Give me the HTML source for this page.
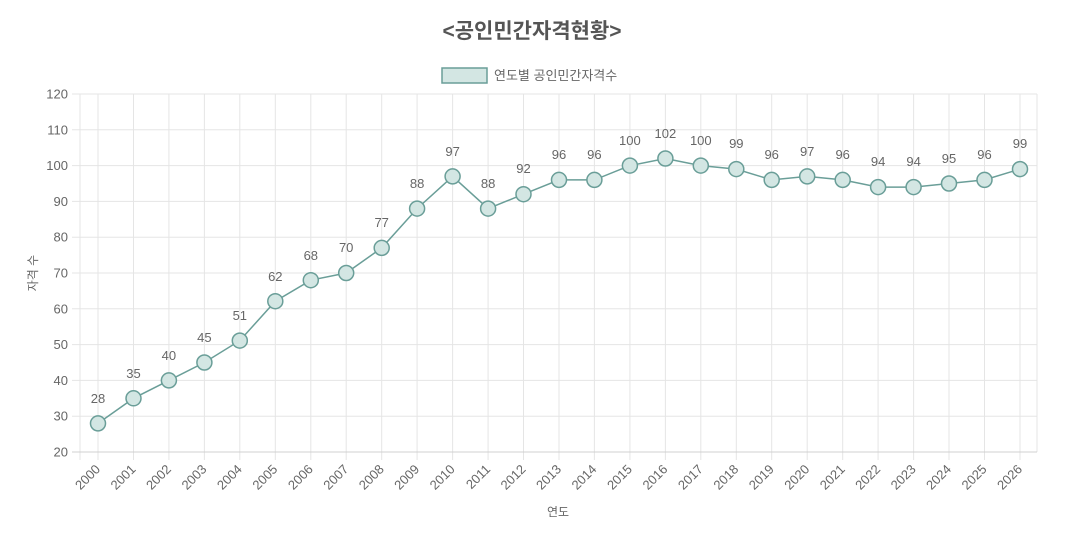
<!DOCTYPE html>
<html><head><meta charset="utf-8"><style>
body{margin:0;background:#fff}
text{font-family:"Liberation Sans","Noto Sans CJK KR",sans-serif;fill:#666}
</style></head><body>
<svg width="1070" height="540" xmlns="http://www.w3.org/2000/svg">
<text x="532" y="38" text-anchor="middle" font-size="21" font-weight="bold" style="fill:#555">&lt;공인민간자격현황&gt;</text>
<rect x="442" y="68" width="45" height="15" fill="#d3e6e3" stroke="#6a9e98" stroke-width="1.5"/>
<text x="494" y="80" font-size="13">연도별 공인민간자격수</text>
<g stroke="#e5e5e5" stroke-width="1">
<line x1="72" y1="94" x2="1037" y2="94"/><line x1="72" y1="129.8" x2="1037" y2="129.8"/><line x1="72" y1="165.6" x2="1037" y2="165.6"/><line x1="72" y1="201.4" x2="1037" y2="201.4"/><line x1="72" y1="237.2" x2="1037" y2="237.2"/><line x1="72" y1="273" x2="1037" y2="273"/><line x1="72" y1="308.8" x2="1037" y2="308.8"/><line x1="72" y1="344.6" x2="1037" y2="344.6"/><line x1="72" y1="380.4" x2="1037" y2="380.4"/><line x1="72" y1="416.2" x2="1037" y2="416.2"/>
<line x1="80" y1="94" x2="80" y2="460"/><line x1="98" y1="94" x2="98" y2="460"/><line x1="133.5" y1="94" x2="133.5" y2="460"/><line x1="168.9" y1="94" x2="168.9" y2="460"/><line x1="204.4" y1="94" x2="204.4" y2="460"/><line x1="239.8" y1="94" x2="239.8" y2="460"/><line x1="275.3" y1="94" x2="275.3" y2="460"/><line x1="310.8" y1="94" x2="310.8" y2="460"/><line x1="346.2" y1="94" x2="346.2" y2="460"/><line x1="381.7" y1="94" x2="381.7" y2="460"/><line x1="417.1" y1="94" x2="417.1" y2="460"/><line x1="452.6" y1="94" x2="452.6" y2="460"/><line x1="488.1" y1="94" x2="488.1" y2="460"/><line x1="523.5" y1="94" x2="523.5" y2="460"/><line x1="559" y1="94" x2="559" y2="460"/><line x1="594.4" y1="94" x2="594.4" y2="460"/><line x1="629.9" y1="94" x2="629.9" y2="460"/><line x1="665.4" y1="94" x2="665.4" y2="460"/><line x1="700.8" y1="94" x2="700.8" y2="460"/><line x1="736.3" y1="94" x2="736.3" y2="460"/><line x1="771.7" y1="94" x2="771.7" y2="460"/><line x1="807.2" y1="94" x2="807.2" y2="460"/><line x1="842.7" y1="94" x2="842.7" y2="460"/><line x1="878.1" y1="94" x2="878.1" y2="460"/><line x1="913.6" y1="94" x2="913.6" y2="460"/><line x1="949" y1="94" x2="949" y2="460"/><line x1="984.5" y1="94" x2="984.5" y2="460"/><line x1="1020" y1="94" x2="1020" y2="460"/><line x1="1037" y1="94" x2="1037" y2="452"/>
</g>
<line x1="72" y1="452" x2="1037" y2="452" stroke="#d0d0d0"/>
<g font-size="13" text-anchor="end">
<text x="68" y="98.5">120</text><text x="68" y="134.3">110</text><text x="68" y="170.1">100</text><text x="68" y="205.9">90</text><text x="68" y="241.7">80</text><text x="68" y="277.5">70</text><text x="68" y="313.3">60</text><text x="68" y="349.1">50</text><text x="68" y="384.9">40</text><text x="68" y="420.7">30</text><text x="68" y="456.5">20</text>
</g>
<text transform="translate(37,273) rotate(-90)" text-anchor="middle" font-size="12">자격 수</text>
<text x="558" y="516" text-anchor="middle" font-size="12">연도</text>
<g font-size="13" text-anchor="end">
<text transform="translate(101,470) rotate(-45)">2000</text><text transform="translate(136.5,470) rotate(-45)">2001</text><text transform="translate(171.9,470) rotate(-45)">2002</text><text transform="translate(207.4,470) rotate(-45)">2003</text><text transform="translate(242.8,470) rotate(-45)">2004</text><text transform="translate(278.3,470) rotate(-45)">2005</text><text transform="translate(313.8,470) rotate(-45)">2006</text><text transform="translate(349.2,470) rotate(-45)">2007</text><text transform="translate(384.7,470) rotate(-45)">2008</text><text transform="translate(420.1,470) rotate(-45)">2009</text><text transform="translate(455.6,470) rotate(-45)">2010</text><text transform="translate(491.1,470) rotate(-45)">2011</text><text transform="translate(526.5,470) rotate(-45)">2012</text><text transform="translate(562,470) rotate(-45)">2013</text><text transform="translate(597.4,470) rotate(-45)">2014</text><text transform="translate(632.9,470) rotate(-45)">2015</text><text transform="translate(668.4,470) rotate(-45)">2016</text><text transform="translate(703.8,470) rotate(-45)">2017</text><text transform="translate(739.3,470) rotate(-45)">2018</text><text transform="translate(774.7,470) rotate(-45)">2019</text><text transform="translate(810.2,470) rotate(-45)">2020</text><text transform="translate(845.7,470) rotate(-45)">2021</text><text transform="translate(881.1,470) rotate(-45)">2022</text><text transform="translate(916.6,470) rotate(-45)">2023</text><text transform="translate(952,470) rotate(-45)">2024</text><text transform="translate(987.5,470) rotate(-45)">2025</text><text transform="translate(1023,470) rotate(-45)">2026</text>
</g>
<polyline fill="none" stroke="#6a9e98" stroke-width="1.5" points="98,423.4 133.5,398.3 168.9,380.4 204.4,362.5 239.8,340.6 275.3,301.2 310.8,280.2 346.2,273 381.7,247.9 417.1,208.6 452.6,176.4 488.1,208.6 523.5,194.2 559,179.9 594.4,179.9 629.9,165.6 665.4,158.5 700.8,165.6 736.3,169.1 771.7,179.9 807.2,176.4 842.7,179.9 878.1,187.1 913.6,187.1 949,183.5 984.5,179.9 1020,169.1"/>
<g fill="#d3e6e3" stroke="#6a9e98" stroke-width="1.5">
<circle cx="98" cy="423.4" r="7.5"/><circle cx="133.5" cy="398.3" r="7.5"/><circle cx="168.9" cy="380.4" r="7.5"/><circle cx="204.4" cy="362.5" r="7.5"/><circle cx="239.8" cy="340.6" r="7.5"/><circle cx="275.3" cy="301.2" r="7.5"/><circle cx="310.8" cy="280.2" r="7.5"/><circle cx="346.2" cy="273" r="7.5"/><circle cx="381.7" cy="247.9" r="7.5"/><circle cx="417.1" cy="208.6" r="7.5"/><circle cx="452.6" cy="176.4" r="7.5"/><circle cx="488.1" cy="208.6" r="7.5"/><circle cx="523.5" cy="194.2" r="7.5"/><circle cx="559" cy="179.9" r="7.5"/><circle cx="594.4" cy="179.9" r="7.5"/><circle cx="629.9" cy="165.6" r="7.5"/><circle cx="665.4" cy="158.5" r="7.5"/><circle cx="700.8" cy="165.6" r="7.5"/><circle cx="736.3" cy="169.1" r="7.5"/><circle cx="771.7" cy="179.9" r="7.5"/><circle cx="807.2" cy="176.4" r="7.5"/><circle cx="842.7" cy="179.9" r="7.5"/><circle cx="878.1" cy="187.1" r="7.5"/><circle cx="913.6" cy="187.1" r="7.5"/><circle cx="949" cy="183.5" r="7.5"/><circle cx="984.5" cy="179.9" r="7.5"/><circle cx="1020" cy="169.1" r="7.5"/>
</g>
<g font-size="13" text-anchor="middle">
<text x="98" y="403">28</text><text x="133.5" y="378">35</text><text x="168.9" y="360">40</text><text x="204.4" y="342">45</text><text x="239.8" y="320">51</text><text x="275.3" y="281">62</text><text x="310.8" y="260">68</text><text x="346.2" y="252">70</text><text x="381.7" y="227">77</text><text x="417.1" y="188">88</text><text x="452.6" y="156">97</text><text x="488.1" y="188">88</text><text x="523.5" y="173">92</text><text x="559" y="159">96</text><text x="594.4" y="159">96</text><text x="629.9" y="145">100</text><text x="665.4" y="138">102</text><text x="700.8" y="145">100</text><text x="736.3" y="148">99</text><text x="771.7" y="159">96</text><text x="807.2" y="156">97</text><text x="842.7" y="159">96</text><text x="878.1" y="166">94</text><text x="913.6" y="166">94</text><text x="949" y="163">95</text><text x="984.5" y="159">96</text><text x="1020" y="148">99</text>
</g>
</svg>
</body></html>
